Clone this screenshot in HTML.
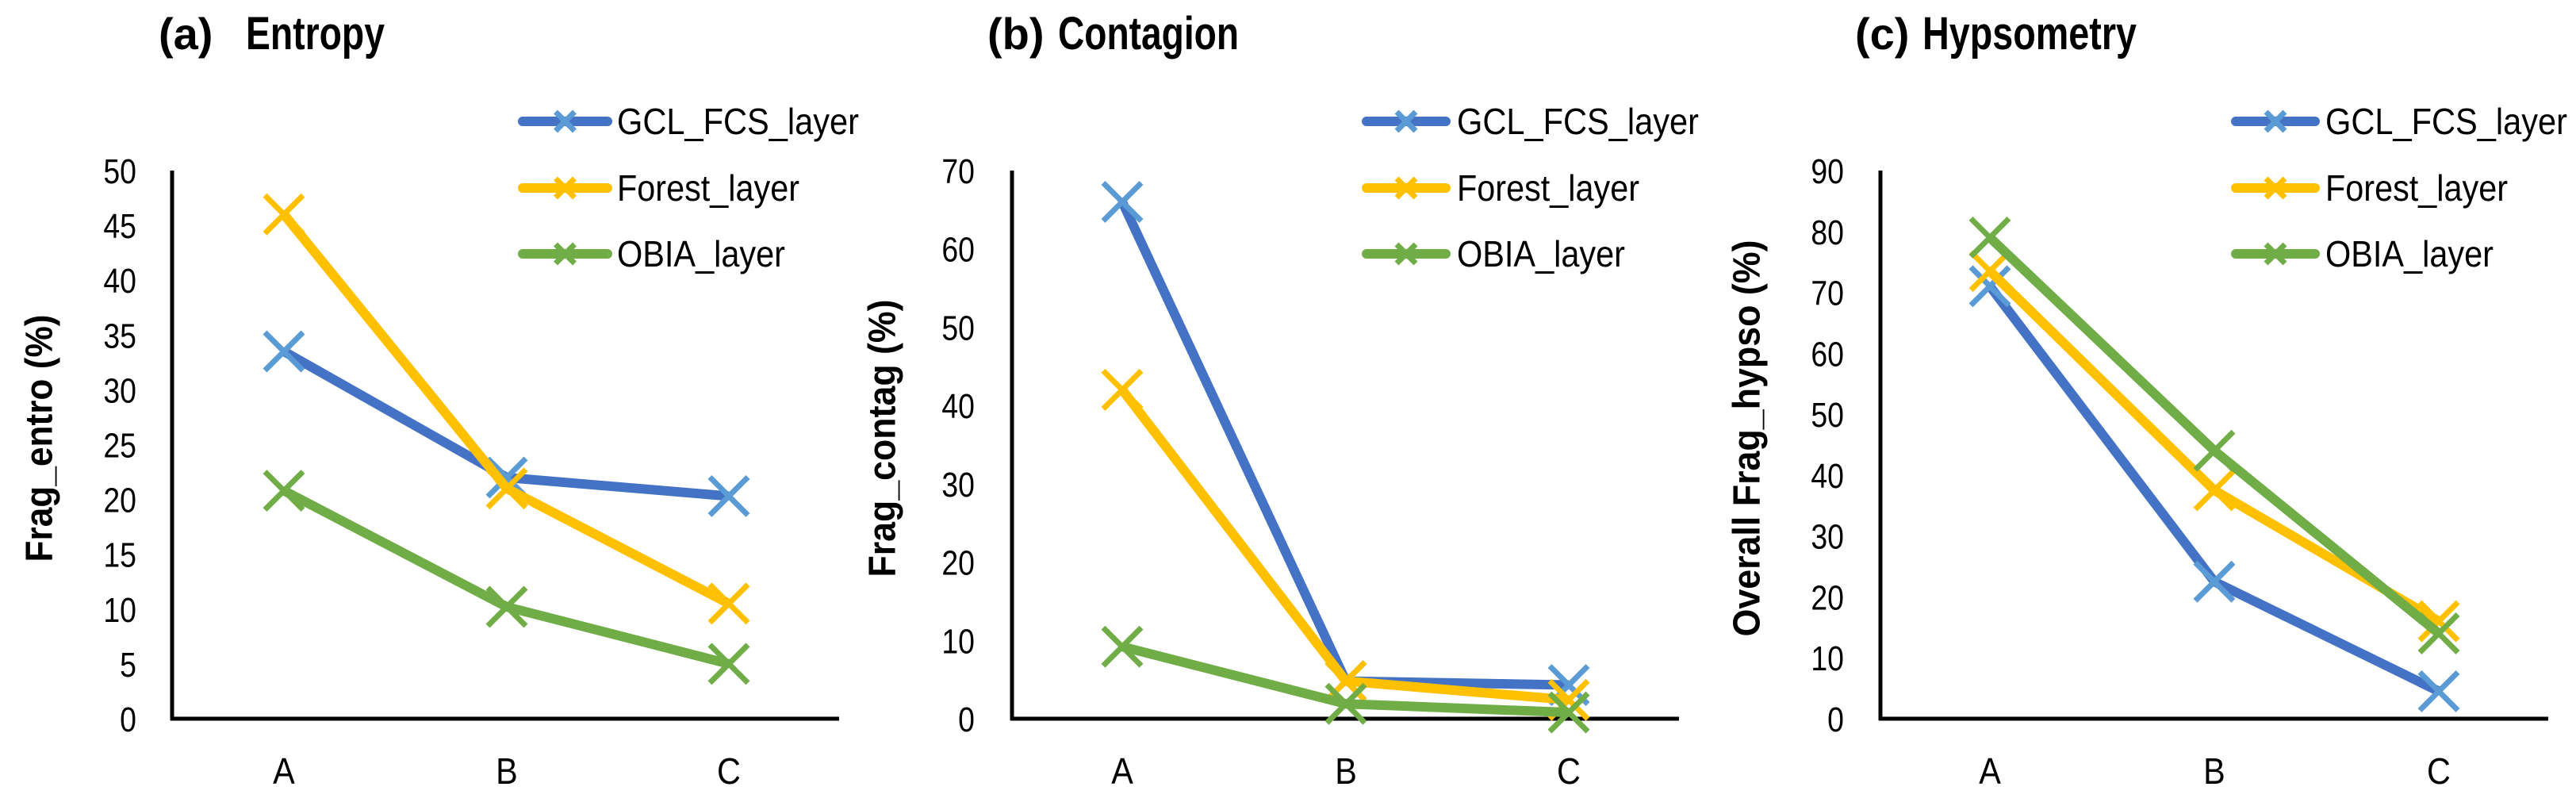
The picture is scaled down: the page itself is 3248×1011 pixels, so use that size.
<!DOCTYPE html>
<html><head><meta charset="utf-8"><style>
html,body{margin:0;padding:0;background:#fff;}
svg{display:block;font-family:"Liberation Sans",Arial,sans-serif;}
</style></head><body>
<svg id="chart" width="3248" height="1011" viewBox="0 0 3248 1011" xmlns="http://www.w3.org/2000/svg"></svg>
<script>
const categories = ['A','B','C'];
const seriesNames = ['GCL_FCS_layer','Forest_layer','OBIA_layer'];
const entroGCL = [33.5, 22, 20.3];
const entroForest = [46, 21, 10.5];
const entroOBIA = [20.8, 10.2, 5];
const contagGCL = [66, 4.8, 4.3];
const contagForest = [42, 4.8, 2.4];
const contagOBIA = [9.2, 1.9, 0.8];
const hypsoGCL = [71, 22.5, 4.5];
const hypsoForest = [73.5, 37.5, 16];
const hypsoOBIA = [79, 44, 14];
const entroTicks = [0,5,10,15,20,25,30,35,40,45,50];
const contagTicks = [0,10,20,30,40,50,60,70];
const hypsoTicks = [0,10,20,30,40,50,60,70,80,90];

const lineColors = ['#4472C4','#FFC000','#70AD47'];
const markColors = ['#5B9BD5','#FFC000','#70AD47'];
const NS = 'http://www.w3.org/2000/svg';
const svg = document.getElementById('chart');
function mk(tag, attrs, parent){const e=document.createElementNS(NS,tag);for(const k in attrs)e.setAttribute(k,attrs[k]);(parent||svg).appendChild(e);return e;}

const panels = [
 {id:'a', label:'(a)', title:'Entropy', ttl:[200,310,175], ytitle:'Frag_entro (%)', ytx:50, ytLen:312,
  ax:217, xend:1058, cx:[358,639,919], ticks:entroTicks, max:50, tickR:172,
  series:[entroGCL,entroForest,entroOBIA], leg:[653,772,778]},
 {id:'b', label:'(b)', title:'Contagion', ttl:[1245,1334,228], ytitle:'Frag_contag (%)', ytx:1113, ytLen:350,
  ax:1276, xend:2117, cx:[1415,1697,1978], ticks:contagTicks, max:70, tickR:1229,
  series:[contagGCL,contagForest,contagOBIA], leg:[1717,1829,1837]},
 {id:'c', label:'(c)', title:'Hypsometry', ttl:[2339,2424,270], ytitle:'Overall Frag_hypso (%)', ytx:2203, ytLen:500,
  ax:2371, xend:3213, cx:[2509,2792,3075], ticks:hypsoTicks, max:90, tickR:2325,
  series:[hypsoGCL,hypsoForest,hypsoOBIA], leg:[2813,2925,2932]}
];
const plotTop=215, plotBottom=906;

function xMark(g, x, y, s, color, w){
  mk('path',{d:`M${x-s} ${y-s}L${x+s} ${y+s}M${x-s} ${y+s}L${x+s} ${y-s}`,stroke:color,'stroke-width':w,fill:'none'},g);
}

panels.forEach(p=>{
  const g = mk('g',{});
  
  
  const yScale = v => plotBottom - v/p.max*(plotBottom-plotTop);
  const t1 = mk('text',{x:p.ttl[0],y:62,'font-size':56,'font-weight':'bold',fill:'#000'},g);
  t1.textContent=p.label;
  
  
  const t2 = mk('text',{x:p.ttl[1],y:62,'font-size':58,'font-weight':'bold',fill:'#000',textLength:p.ttl[2],lengthAdjust:'spacingAndGlyphs'},g);
  t2.textContent=p.title;
  
  
  const cy=(plotTop+plotBottom)/2 - 8;
  const yt = mk('text',{x:p.ytx,y:cy,'font-size':48,'font-weight':'bold','text-anchor':'middle','dominant-baseline':'central',transform:`rotate(-90 ${p.ytx} ${cy})`,textLength:p.ytLen,lengthAdjust:'spacingAndGlyphs'},g);
  yt.textContent=p.ytitle;
  
  
  p.ticks.forEach(t=>{
    const tl = mk('text',{x:p.tickR,y:yScale(t)+16,'font-size':44,'text-anchor':'end',transform:`translate(${p.tickR} 0) scale(0.85 1) translate(${-p.tickR} 0)`},g);
    tl.textContent=t;
    
    
  });
  categories.forEach((c,i)=>{
    const cl = mk('text',{x:p.cx[i],y:988,'font-size':46,'text-anchor':'middle',transform:`translate(${p.cx[i]} 0) scale(0.9 1) translate(${-p.cx[i]} 0)`},g);
    cl.textContent=c;
    
    
  });
  const ya = mk('line',{x1:p.ax,y1:plotTop,x2:p.ax,y2:plotBottom+2,stroke:'#000','stroke-width':5},g);
  
  
  const xa = mk('line',{x1:p.ax-2,y1:plotBottom,x2:p.xend,y2:plotBottom,stroke:'#000','stroke-width':5},g);
  
  
  p.series.forEach((vals,si)=>{
    const sg = mk('g',{},g);
    
    
    const pts = vals.map((v,i)=>p.cx[i]+','+yScale(v)).join(' ');
    const pl = mk('polyline',{points:pts,fill:'none',stroke:lineColors[si],'stroke-width':12,'stroke-linejoin':'round'},sg);
    
    
    vals.forEach((v,i)=>{
      const mg = mk('g',{},sg);
      
      
      xMark(mg,p.cx[i],yScale(v),24,markColors[si],7);
    });
  });
  const legY=[153,237,320];
  seriesNames.forEach((n,si)=>{
    const lg = mk('g',{},g);
    
    
    mk('line',{x1:p.leg[0]+6,y1:legY[si],x2:p.leg[1]-6,y2:legY[si],stroke:lineColors[si],'stroke-width':12,'stroke-linecap':'round'},lg);
    xMark(lg,(p.leg[0]+p.leg[1])/2,legY[si],12,markColors[si],7);
    const lens=[305,230,212];
    const lt = mk('text',{x:p.leg[2],y:legY[si]+16,'font-size':46,textLength:lens[si],lengthAdjust:'spacingAndGlyphs'},lg);
    lt.textContent=n;
  });
});
</script>
</body></html>
